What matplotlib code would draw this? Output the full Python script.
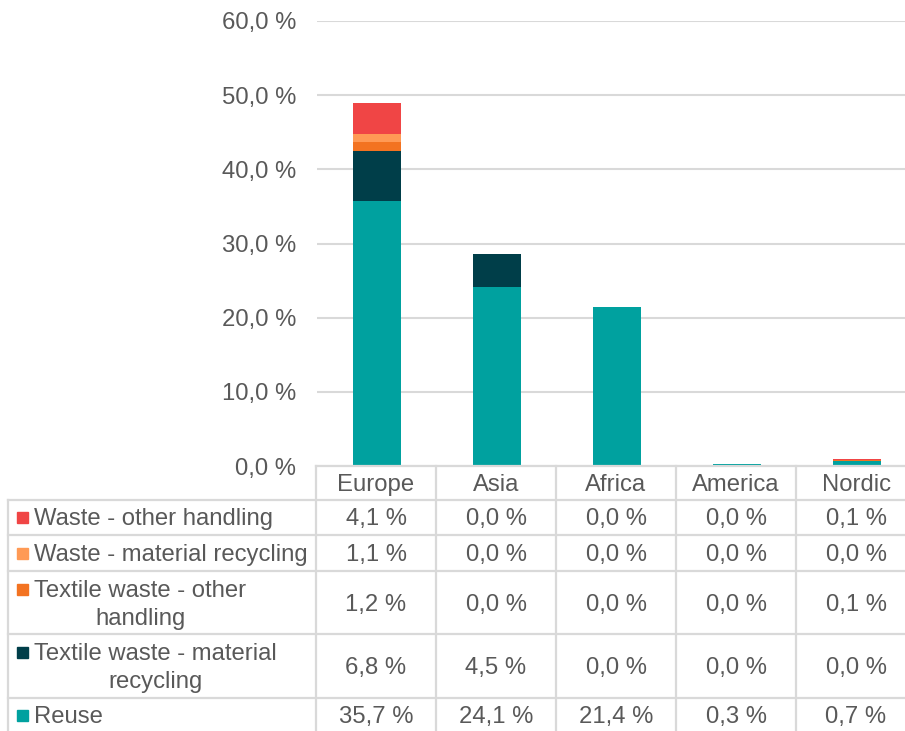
import matplotlib
matplotlib.use("Agg")
import matplotlib.pyplot as plt
from matplotlib.lines import Line2D
from matplotlib.patches import Rectangle

plt.rcParams['font.family'] = ['Liberation Sans', 'DejaVu Sans']

categories = ["Europe", "Asia", "Africa", "America", "Nordic"]
series_names = ["Waste - other handling", "Waste - material recycling",
                "Textile waste - other\nhandling", "Textile waste - material\nrecycling", "Reuse"]
reuse = [35.7, 24.1, 21.4, 0.3, 0.7]
textile_material = [6.8, 4.5, 0.0, 0.0, 0.0]
textile_other = [1.2, 0.0, 0.0, 0.0, 0.1]
waste_material = [1.1, 0.0, 0.0, 0.0, 0.0]
waste_other = [4.1, 0.0, 0.0, 0.0, 0.1]
y_ticks = [0, 10, 20, 30, 40, 50, 60]

colors = {
    "reuse": "#00A19F",
    "tm": "#003E49",
    "to": "#F37321",
    "wm": "#FF9A55",
    "wo": "#F04545",
}
TXT = "#595959"
GRID = "#D9D9D9"
FS = 17.2

W, H = 905, 731
fig = plt.figure(figsize=(W / 100, H / 100), dpi=100)

x0, x1 = 317, 905
ytop, ybot = 21, 466
ax = fig.add_axes([x0 / W, (H - ybot) / H, (x1 - x0) / W, (ybot - ytop) / H])
ax.set_xlim(-0.5, -0.5 + (x1 - x0) / 120)
ax.set_ylim(0, 60)

xs = list(range(len(categories)))
stack = [(reuse, colors["reuse"]), (textile_material, colors["tm"]),
         (textile_other, colors["to"]), (waste_material, colors["wm"]),
         (waste_other, colors["wo"])]
bottom = [0.0] * len(categories)
for vals, c in stack:
    ax.bar(xs, vals, width=0.4, bottom=bottom, color=c, zorder=3)
    bottom = [b + v for b, v in zip(bottom, vals)]

ax.set_yticks(y_ticks)
ax.set_yticklabels([f"{t:.1f} %".replace(".", ",") for t in y_ticks], color=TXT, fontsize=FS)
ax.tick_params(axis='y', length=0, pad=15)
ax.set_xticks([])
ax.grid(axis='y', color=GRID, linewidth=1.5, zorder=0)
for s in ax.spines.values():
    s.set_visible(False)

# Table drawn in figure pixel coordinates
def fx(px):
    return px / W

def fy(py):
    return (H - py) / H

def hline(y, xa, xb):
    fig.add_artist(Line2D([fx(xa), fx(xb)], [fy(y), fy(y)], color=GRID, linewidth=1.6))

def vline(x, ya, yb):
    fig.add_artist(Line2D([fx(x), fx(x)], [fy(ya), fy(yb)], color=GRID, linewidth=1.6))

col_left = 316
col_w = 120
row_lines = [500, 535, 571, 634, 698]
hline(466, col_left, W)
for y in row_lines:
    hline(y, 8, W)
vline(8, 500, H)
for i in range(len(categories)):
    vline(col_left + i * col_w, 466, H)

for i, c in enumerate(categories):
    fig.text(fx(col_left + col_w * (i + 0.5)), fy(485), c, ha='center', va='center',
             color=TXT, fontsize=FS)

rows = [waste_other, waste_material, textile_other, textile_material, reuse]
row_colors = [colors["wo"], colors["wm"], colors["to"], colors["tm"], colors["reuse"]]
row_centers = [519, 555, 605, 668, 717]
first_line = [517, 553, 589, 652, 715]
for name, vals, rc, yc, yf in zip(series_names, rows, row_colors, row_centers, first_line):
    fig.add_artist(Rectangle((fx(17), fy(yf + 6)), 11 / W, 11 / H, color=rc,
                             transform=fig.transFigure))
    fig.text(fx(34), fy(yc), name, ha='left', va='center', multialignment='center',
             color=TXT, fontsize=FS, linespacing=1.3)
    for i, v in enumerate(vals):
        fig.text(fx(col_left + col_w * (i + 0.5)), fy(yc), f"{v:.1f} %".replace(".", ","),
                 ha='center', va='center', color=TXT, fontsize=FS)

fig.savefig("out.png", dpi=100, facecolor="white")
